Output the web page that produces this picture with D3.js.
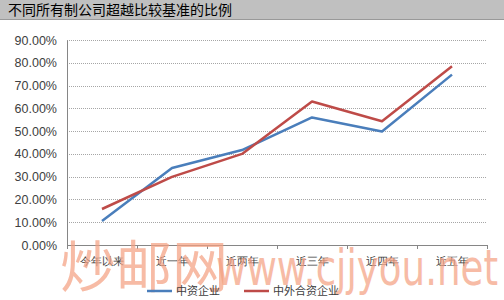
<!DOCTYPE html>
<html>
<head>
<meta charset="utf-8">
<script src="https://cdn.jsdelivr.net/npm/d3@7"></script>
<style>
  body { margin: 0; background: #fff; }
  svg { display: block; font-family: "Noto Sans CJK SC", "DejaVu Sans", sans-serif; }
</style>
</head>
<body>
<div id="chart"></div>
<script>
// data
var categories = ["今年以来", "近一年", "近两年", "近三年", "近四年", "近五年"];
var seriesNames = ["中资企业", "中外合资企业"];
var domestic = [0.105, 0.338, 0.417, 0.560, 0.498, 0.748];
var jointVenture = [0.158, 0.299, 0.400, 0.630, 0.543, 0.785];
var yTicks = [0, 0.1, 0.2, 0.3, 0.4, 0.5, 0.6, 0.7, 0.8, 0.9];
var colors = ["#4a7ebb", "#be4b48"];

var W = 504, H = 300;
var margin = { left: 67, right: 17, top: 40, bottom: 55 };
var width = W - margin.left - margin.right, height = H - margin.top - margin.bottom;

var svg = d3.select("#chart").append("svg").attr("width", W).attr("height", H);

// title bar
svg.append("rect").attr("x", 0).attr("y", 0).attr("width", W).attr("height", 19).attr("fill", "#c0c0c0");
svg.append("line").attr("x1", 0).attr("x2", W).attr("y1", 19.5).attr("y2", 19.5).attr("stroke", "#999");
svg.append("text").attr("x", 8).attr("y", 15).attr("font-size", "14px").attr("fill", "#000")
    .text("不同所有制公司超越比较基准的比例");

var g = svg.append("g").attr("transform", "translate(" + margin.left + "," + margin.top + ")");

var x = d3.scaleBand().domain(categories).range([0, width]);
var y = d3.scaleLinear().domain([0, 0.9]).range([height, 0]);

// gridlines
g.selectAll(".grid").data(yTicks.slice(1)).enter().append("line")
    .attr("x1", 0).attr("x2", width)
    .attr("y1", function (d) { return Math.round(y(d)) + 0.5; })
    .attr("y2", function (d) { return Math.round(y(d)) + 0.5; })
    .attr("stroke", "#a6a6a6").attr("stroke-dasharray", "1,1");

// y axis
var yAxis = g.append("g").call(d3.axisLeft(y).tickValues(yTicks).tickSize(0).tickPadding(10).tickFormat(d3.format(".2%")));
yAxis.select(".domain").attr("stroke", "#868686");
yAxis.selectAll("text").attr("font-family", "Liberation Sans, Arial, sans-serif").attr("font-size", "12.5px").attr("fill", "#404040");

// x axis with ticks at band boundaries
var xAxis = g.append("g").attr("transform", "translate(0," + height + ")")
    .call(d3.axisBottom(x).tickSize(0).tickPadding(12));
xAxis.select(".domain").attr("stroke", "#868686");
xAxis.selectAll("text").attr("font-size", "11px").attr("fill", "#404040");
g.selectAll(".xtick").data(d3.range(categories.length + 1)).enter().append("line")
    .attr("x1", function (i) { return Math.round(i * x.step()) + 0.5; })
    .attr("x2", function (i) { return Math.round(i * x.step()) + 0.5; })
    .attr("y1", height).attr("y2", height + 4).attr("stroke", "#868686");

// lines
var line = d3.line()
    .x(function (d, i) { return x(categories[i]) + x.bandwidth() / 2; })
    .y(function (d) { return y(d); });
[domestic, jointVenture].forEach(function (s, k) {
    g.append("path").datum(s).attr("d", line).attr("fill", "none")
        .attr("stroke", colors[k]).attr("stroke-width", 2.5).attr("stroke-linejoin", "round");
});

// watermark
svg.append("text").attr("x", 60).attr("y", 287).attr("font-size", "56px").attr("fill", "#f4a183").attr("opacity", 0.72)
    .text("炒邮网");
svg.append("text").attr("x", 216).attr("y", 285).attr("font-size", "50px").attr("fill", "#f4a183").attr("opacity", 0.72)
    .attr("font-family", "DejaVu Sans, sans-serif").attr("textLength", 282).attr("lengthAdjust", "spacingAndGlyphs")
    .text("www.cjjyou.net");

// legend
var legendX = [147, 244];
seriesNames.forEach(function (name, k) {
    var lg = svg.append("g").attr("transform", "translate(" + legendX[k] + ",291)");
    lg.append("line").attr("x1", 0).attr("x2", 25).attr("y1", 0).attr("y2", 0)
        .attr("stroke", colors[k]).attr("stroke-width", 2.5);
    lg.append("text").attr("x", 29).attr("y", 4).attr("font-size", "11px").attr("fill", "#404040").text(name);
});
</script>
</body>
</html>
